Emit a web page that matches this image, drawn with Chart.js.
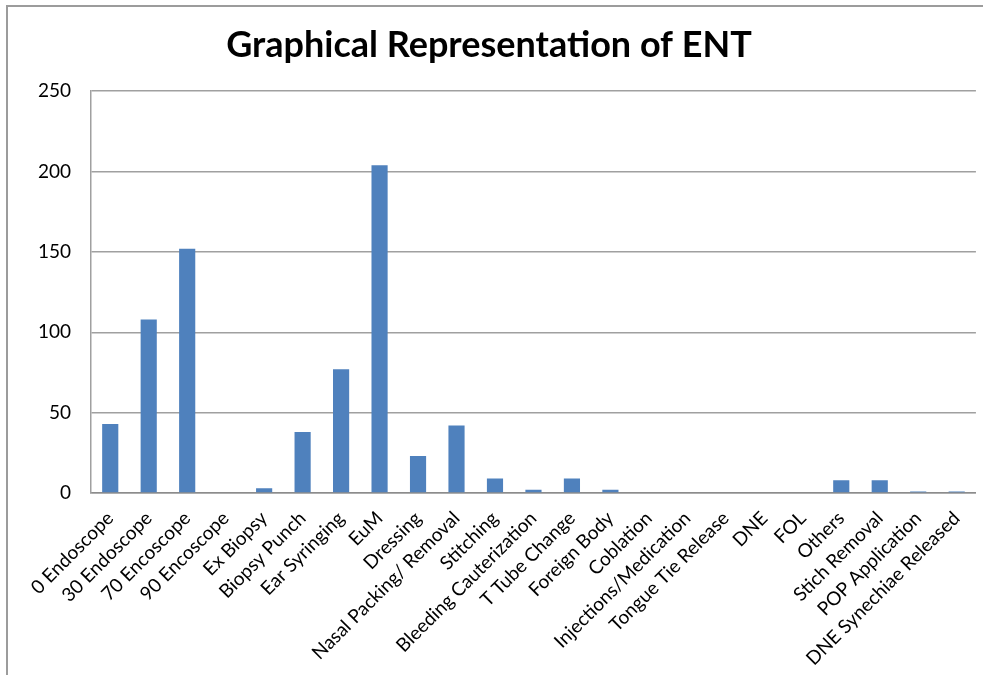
<!DOCTYPE html>
<html>
<head>
<meta charset="utf-8">
<script src="https://cdn.jsdelivr.net/npm/chart.js@4/dist/chart.umd.min.js"></script>
<style>
  html, body { margin: 0; padding: 0; background: #ffffff; }
  #wrap { position: relative; width: 987px; height: 675px; }
</style>
</head>
<body>
<div id="wrap"><canvas id="chart" width="987" height="675"></canvas></div>
<script>
// ENT procedure counts
const categories = [
  "0 Endoscope", "30 Endoscope", "70 Encoscope", "90 Encoscope", "Ex Biopsy",
  "Biopsy Punch", "Ear Syringing", "EuM", "Dressing", "Nasal Packing/ Removal",
  "Stitching", "Bleeding Cauterization", "T Tube Change", "Foreign Body", "Coblation",
  "Injections/Medication", "Tongue Tie Release", "DNE", "FOL", "Others",
  "Stich Removal", "POP Application", "DNE Synechiae Released"
];
const counts = [43, 108, 152, 0, 3, 38, 77, 204, 23, 42, 9, 2, 9, 2, 0, 0, 0, 0, 0, 8, 8, 1, 1];
const yTicks = [0, 50, 100, 150, 200, 250];

const FONT = "Lato, 'Open Sans', sans-serif";

// thin grey frame along the top and left edge of the figure
const framePlugin = {
  id: 'frame',
  beforeDraw(chart) {
    const ctx = chart.ctx;
    ctx.save();
    ctx.strokeStyle = '#9c9c9c';
    ctx.lineWidth = 2;
    ctx.beginPath();
    ctx.moveTo(7, 675);
    ctx.lineTo(7, 6);
    ctx.lineTo(983, 6);
    ctx.stroke();
    ctx.restore();
  }
};

new Chart(document.getElementById('chart'), {
  type: 'bar',
  data: {
    labels: categories,
    datasets: [{
      data: counts,
      backgroundColor: '#4f81bd',
      borderWidth: 0,
      barPercentage: 0.42,
      categoryPercentage: 1.0
    }]
  },
  options: {
    responsive: false,
    animation: false,
    layout: { padding: { left: 0, right: 9, top: 0, bottom: 0 } },
    plugins: {
      legend: { display: false },
      tooltip: { enabled: false },
      title: {
        display: true,
        text: 'Graphical Representation of ENT',
        color: '#000000',
        font: { family: FONT, size: 36, weight: 'bold', lineHeight: 1.2 },
        padding: { top: 24, bottom: 24 }
      }
    },
    scales: {
      x: {
        grid: { display: false, drawTicks: false },
        border: { display: true, color: '#8c8c8c', width: 1.5 },
        ticks: {
          color: '#000000',
          font: { family: FONT, size: 19 },
          minRotation: 45,
          maxRotation: 45,
          autoSkip: false,
          padding: 14
        },
        afterFit(scale) { scale.height = 182; }
      },
      y: {
        min: 0,
        max: 250,
        afterBuildTicks(scale) { scale.ticks = yTicks.map(v => ({ value: v })); },
        grid: { color: '#a0a0a0', lineWidth: 1.5, drawTicks: false },
        border: { display: true, color: '#a0a0a0', width: 1.5 },
        ticks: {
          color: '#000000',
          font: { family: FONT, size: 19 },
          padding: 20
        },
        afterFit(scale) { scale.width = 91; }
      }
    }
  },
  plugins: [framePlugin]
});
</script>
</body>
</html>
